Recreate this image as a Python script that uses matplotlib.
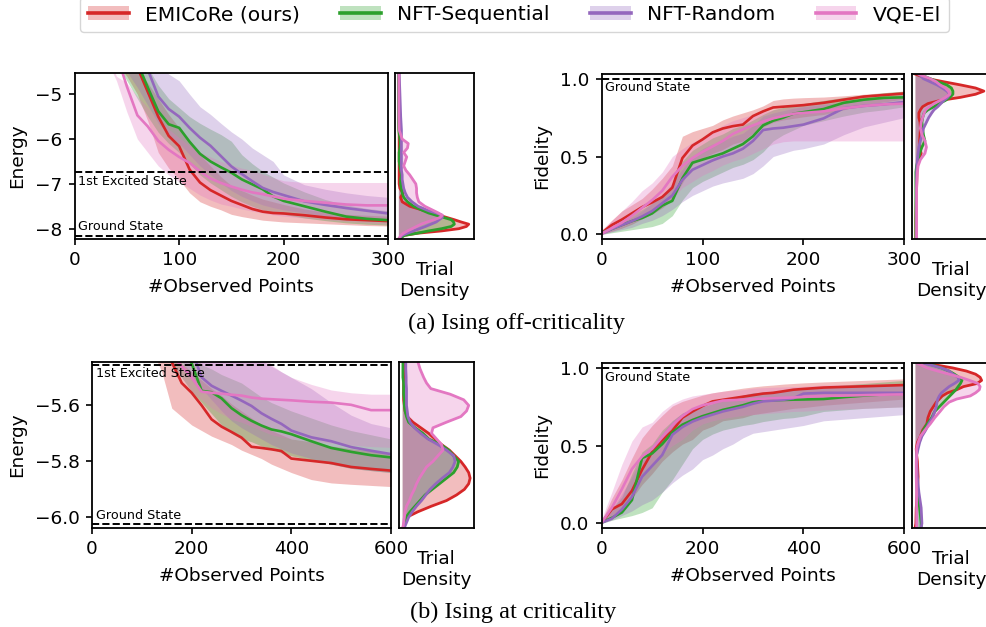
import matplotlib
matplotlib.use("Agg")
import matplotlib.pyplot as plt
from matplotlib.patches import Patch
from matplotlib.lines import Line2D
import matplotlib.transforms as mtransforms

methods = ["EMICoRe (ours)", "NFT-Sequential", "NFT-Random", "VQE-El"]
colors = ["#d62728", "#2ca02c", "#9467bd", "#e377c2"]

# ---------------- (a) Ising off-criticality ----------------
x_a = [0, 10, 20, 30, 40, 50, 60, 70, 80, 90, 100, 110, 120, 130, 140, 150,
       160, 170, 180, 190, 200, 220, 240, 260, 280, 300]

en_a_emicore = [-2.5, -2.85, -3.2, -3.5, -3.8, -4.1, -4.4, -4.95, -5.5, -5.93, -6.16, -6.68, -6.97,
                -7.14, -7.26, -7.38, -7.47, -7.56, -7.62, -7.65, -7.66, -7.7, -7.75, -7.79, -7.81, -7.83]
en_a_emicore_hi = [-2.0, -2.4, -2.8, -3.2, -3.6, -4.0, -4.45, -4.75, -5.1, -5.45, -5.75, -6.05, -6.35,
                   -6.6, -6.84, -7.04, -7.15, -7.25, -7.34, -7.4, -7.46, -7.56, -7.63, -7.68, -7.7, -7.72]
en_a_emicore_lo = [-3.0, -3.3, -3.6, -3.95, -4.3, -4.6, -5.0, -5.6, -6.3, -6.65, -6.9, -7.2, -7.4,
                   -7.5, -7.58, -7.68, -7.73, -7.77, -7.81, -7.83, -7.85, -7.87, -7.89, -7.91, -7.93, -7.94]
en_a_seq = [-2.5, -2.8, -3.1, -3.4, -3.7, -4.0, -4.3, -4.85, -5.38, -5.67, -5.75, -6.06, -6.33,
            -6.5, -6.63, -6.75, -6.9, -7.01, -7.12, -7.28, -7.38, -7.5, -7.62, -7.73, -7.78, -7.81]
en_a_seq_hi = [-2.0, -2.3, -2.6, -2.95, -3.3, -3.7, -4.0, -4.4, -4.8, -5.1, -5.3, -5.5, -5.65,
               -5.78, -5.9, -6.05, -6.35, -6.55, -6.72, -6.85, -6.98, -7.18, -7.35, -7.47, -7.55, -7.6]
en_a_seq_lo = [-3.0, -3.3, -3.6, -3.95, -4.3, -4.7, -5.1, -5.5, -5.85, -6.1, -6.3, -6.55, -6.8,
               -6.98, -7.13, -7.28, -7.4, -7.5, -7.58, -7.63, -7.68, -7.76, -7.82, -7.87, -7.9, -7.92]
en_a_rand = [-2.4, -2.7, -3.0, -3.3, -3.6, -3.9, -4.2, -4.45, -5.05, -5.33, -5.5, -5.75, -5.97,
             -6.15, -6.38, -6.61, -6.78, -6.94, -7.09, -7.18, -7.25, -7.39, -7.47, -7.54, -7.6, -7.66]
en_a_rand_hi = [-1.8, -2.1, -2.4, -2.7, -3.0, -3.4, -3.7, -4.0, -4.3, -4.55, -4.7, -5.0, -5.28,
                -5.45, -5.65, -5.84, -6.0, -6.2, -6.35, -6.5, -6.8, -7.02, -7.12, -7.2, -7.26, -7.3]
en_a_rand_lo = [-3.0, -3.25, -3.5, -3.85, -4.2, -4.5, -4.85, -5.25, -5.65, -5.9, -6.1, -6.35, -6.6,
                -6.8, -6.98, -7.15, -7.28, -7.38, -7.47, -7.53, -7.58, -7.65, -7.72, -7.77, -7.82, -7.85]
en_a_vqe = [-2.8, -3.1, -3.4, -3.75, -4.1, -4.83, -5.47, -5.72, -6.04, -6.24, -6.4, -6.53, -6.72,
            -6.88, -6.98, -7.06, -7.13, -7.19, -7.23, -7.28, -7.33, -7.38, -7.42, -7.46, -7.48, -7.48]
en_a_vqe_hi = [-2.0, -2.6, -3.3, -4.0, -4.6, -4.75, -5.05, -5.3, -5.55, -5.78, -5.97, -6.15, -6.3,
               -6.4, -6.5, -6.58, -6.65, -6.7, -6.78, -6.86, -6.93, -6.97, -6.97, -6.97, -6.97, -6.97]
en_a_vqe_lo = [-3.2, -3.5, -3.8, -4.2, -4.7, -5.4, -6.0, -6.3, -6.6, -6.8, -6.95, -7.1, -7.25,
               -7.36, -7.45, -7.5, -7.56, -7.61, -7.65, -7.69, -7.72, -7.76, -7.8, -7.84, -7.87, -7.9]

fid_a_emicore = [0.01, 0.06, 0.095, 0.135, 0.175, 0.205, 0.24, 0.3, 0.49, 0.57, 0.61, 0.655, 0.68,
                 0.695, 0.705, 0.76, 0.79, 0.815, 0.82, 0.825, 0.83, 0.845, 0.865, 0.885, 0.895, 0.905]
fid_a_emicore_hi = [0.02, 0.09, 0.15, 0.19, 0.23, 0.29, 0.36, 0.44, 0.63, 0.66, 0.68, 0.7, 0.735,
                    0.76, 0.78, 0.8, 0.825, 0.86, 0.87, 0.875, 0.878, 0.882, 0.89, 0.9, 0.91, 0.92]
fid_a_emicore_lo = [0.0, 0.02, 0.04, 0.065, 0.1, 0.13, 0.17, 0.22, 0.33, 0.45, 0.49, 0.52, 0.545,
                    0.58, 0.6, 0.65, 0.69, 0.72, 0.735, 0.745, 0.755, 0.77, 0.8, 0.835, 0.85, 0.87]
fid_a_seq = [0.01, 0.035, 0.06, 0.085, 0.105, 0.135, 0.185, 0.215, 0.36, 0.46, 0.48, 0.5, 0.52,
             0.55, 0.58, 0.63, 0.7, 0.73, 0.75, 0.775, 0.785, 0.805, 0.845, 0.865, 0.877, 0.88]
fid_a_seq_hi = [0.02, 0.055, 0.09, 0.125, 0.16, 0.2, 0.25, 0.32, 0.47, 0.54, 0.58, 0.62, 0.645,
                0.68, 0.7, 0.735, 0.77, 0.8, 0.815, 0.83, 0.84, 0.86, 0.88, 0.895, 0.91, 0.92]
fid_a_seq_lo = [0.0, 0.01, 0.02, 0.03, 0.04, 0.05, 0.07, 0.12, 0.22, 0.3, 0.34, 0.37, 0.4,
                0.43, 0.45, 0.48, 0.53, 0.6, 0.64, 0.67, 0.7, 0.73, 0.76, 0.785, 0.8, 0.82]
fid_a_rand = [0.005, 0.035, 0.06, 0.085, 0.115, 0.15, 0.2, 0.25, 0.35, 0.415, 0.445, 0.475, 0.5,
              0.52, 0.55, 0.6, 0.67, 0.68, 0.685, 0.695, 0.705, 0.745, 0.81, 0.825, 0.835, 0.85]
fid_a_rand_hi = [0.02, 0.05, 0.085, 0.11, 0.15, 0.2, 0.25, 0.33, 0.42, 0.5, 0.55, 0.58, 0.6,
                 0.63, 0.65, 0.7, 0.76, 0.78, 0.795, 0.81, 0.82, 0.835, 0.85, 0.865, 0.88, 0.9]
fid_a_rand_lo = [0.0, 0.015, 0.03, 0.045, 0.07, 0.09, 0.12, 0.16, 0.21, 0.25, 0.28, 0.31, 0.33,
                 0.345, 0.36, 0.39, 0.44, 0.5, 0.52, 0.54, 0.55, 0.58, 0.64, 0.69, 0.72, 0.75]
fid_a_vqe = [0.005, 0.04, 0.075, 0.12, 0.17, 0.22, 0.28, 0.37, 0.44, 0.49, 0.53, 0.565, 0.6,
             0.645, 0.675, 0.7, 0.725, 0.745, 0.76, 0.775, 0.78, 0.79, 0.81, 0.825, 0.835, 0.84]
fid_a_vqe_hi = [0.03, 0.09, 0.15, 0.21, 0.28, 0.33, 0.4, 0.5, 0.55, 0.59, 0.62, 0.66, 0.7,
                0.73, 0.75, 0.77, 0.785, 0.8, 0.81, 0.82, 0.83, 0.84, 0.85, 0.86, 0.87, 0.88]
fid_a_vqe_lo = [0.0, 0.02, 0.045, 0.075, 0.1, 0.135, 0.175, 0.23, 0.3, 0.34, 0.38, 0.41, 0.445,
                0.47, 0.49, 0.52, 0.55, 0.58, 0.595, 0.6, 0.6, 0.6, 0.6, 0.6, 0.6, 0.6]

# final-value densities, (a)
dens_en_a_levels = [-8.22, -8.15, -8.1, -8.05, -8.0, -7.95, -7.9, -7.85, -7.8, -7.75, -7.7, -7.65,
                    -7.6, -7.5, -7.4, -7.3, -7.2, -7.1, -7.0, -6.9, -6.8, -6.7, -6.6, -6.5, -6.4,
                    -6.3, -6.2, -6.1, -6.0, -5.8, -5.5, -5.0, -4.52]
dens_en_a_emicore = [0.01, 0.07, 0.26, 0.57, 0.8, 0.9, 0.93, 0.83, 0.74, 0.64, 0.54, 0.44, 0.35,
                     0.15, 0.05, 0.03, 0.06, 0.02, 0.01, 0.01, 0.01, 0.01, 0.01, 0.01, 0.01, 0.01,
                     0.01, 0.01, 0.01, 0.01, 0.005, 0.005, 0.005]
dens_en_a_seq = [0.02, 0.08, 0.25, 0.4, 0.57, 0.7, 0.74, 0.73, 0.7, 0.6, 0.5, 0.4, 0.33,
                 0.2, 0.12, 0.07, 0.05, 0.04, 0.03, 0.03, 0.04, 0.03, 0.02, 0.01, 0.01, 0.01,
                 0.02, 0.025, 0.02, 0.005, 0.0, 0.0, 0.0]
dens_en_a_rand = [0.01, 0.05, 0.12, 0.2, 0.28, 0.36, 0.43, 0.5, 0.54, 0.58, 0.58, 0.5, 0.4,
                  0.26, 0.18, 0.12, 0.09, 0.07, 0.06, 0.05, 0.05, 0.04, 0.04, 0.04, 0.04, 0.04,
                  0.04, 0.04, 0.04, 0.04, 0.03, 0.02, 0.01]
dens_en_a_vqe = [0.01, 0.03, 0.07, 0.12, 0.18, 0.24, 0.3, 0.38, 0.47, 0.55, 0.58, 0.53, 0.47,
                 0.35, 0.27, 0.25, 0.24, 0.24, 0.23, 0.19, 0.15, 0.1, 0.07, 0.09, 0.11, 0.07,
                 0.12, 0.13, 0.05, 0.01, 0.005, 0.005, 0.005]

dens_fid_levels = [-0.03, 0.0, 0.1, 0.2, 0.3, 0.4, 0.44, 0.48, 0.52, 0.56, 0.6, 0.64, 0.68, 0.72,
                   0.75, 0.78, 0.8, 0.82, 0.84, 0.86, 0.88, 0.9, 0.92, 0.94, 0.96, 0.98, 1.0, 1.03]
dens_fid_a_emicore = [0.01, 0.01, 0.01, 0.015, 0.02, 0.025, 0.03, 0.05, 0.08, 0.06, 0.06, 0.065, 0.07, 0.065,
                      0.05, 0.05, 0.07, 0.1, 0.17, 0.33, 0.6, 0.8, 0.91, 0.8, 0.6, 0.38, 0.17, 0.0]
dens_fid_a_seq = [0.01, 0.01, 0.01, 0.01, 0.01, 0.01, 0.02, 0.04, 0.06, 0.09, 0.13, 0.11, 0.1, 0.09,
                  0.1, 0.12, 0.17, 0.25, 0.32, 0.4, 0.46, 0.5, 0.5, 0.48, 0.42, 0.3, 0.2, 0.05]
dens_fid_a_rand = [0.02, 0.02, 0.02, 0.02, 0.02, 0.02, 0.025, 0.03, 0.04, 0.05, 0.07, 0.09, 0.11, 0.15,
                   0.18, 0.22, 0.25, 0.3, 0.34, 0.38, 0.43, 0.46, 0.42, 0.36, 0.29, 0.2, 0.11, 0.05]
dens_fid_a_vqe = [0.02, 0.02, 0.02, 0.02, 0.02, 0.03, 0.04, 0.07, 0.13, 0.15, 0.13, 0.09, 0.07, 0.08,
                  0.1, 0.12, 0.14, 0.19, 0.25, 0.33, 0.4, 0.46, 0.44, 0.4, 0.33, 0.28, 0.2, 0.04]

# ---------------- (b) Ising at criticality ----------------
x_b = [0, 20, 40, 60, 80, 100, 120, 140, 160, 180, 200, 220, 240, 260, 280, 300,
       320, 340, 360, 380, 400, 440, 480, 520, 560, 600]

en_b_emicore = [-4.6, -4.75, -4.9, -5.0, -5.1, -5.2, -5.3, -5.38, -5.445, -5.52, -5.555, -5.6, -5.65,
                -5.676, -5.695, -5.715, -5.748, -5.752, -5.757, -5.763, -5.79, -5.798, -5.806, -5.82, -5.827, -5.833]
en_b_emicore_hi = [-4.3, -4.45, -4.6, -4.75, -4.9, -5.05, -5.2, -5.35, -5.4, -5.45, -5.48, -5.51, -5.54,
                   -5.565, -5.595, -5.62, -5.645, -5.67, -5.69, -5.705, -5.72, -5.73, -5.745, -5.755, -5.762, -5.77]
en_b_emicore_lo = [-4.9, -5.0, -5.1, -5.2, -5.28, -5.34, -5.4, -5.48, -5.61, -5.64, -5.67, -5.69, -5.71,
                   -5.725, -5.74, -5.76, -5.775, -5.79, -5.81, -5.825, -5.84, -5.865, -5.877, -5.882, -5.886, -5.89]
en_b_seq = [-4.6, -4.7, -4.8, -4.9, -5.0, -5.1, -5.2, -5.28, -5.35, -5.4, -5.45, -5.548, -5.553,
            -5.575, -5.61, -5.635, -5.655, -5.672, -5.686, -5.693, -5.703, -5.728, -5.752, -5.766, -5.778, -5.786]
en_b_seq_hi = [-4.3, -4.4, -4.5, -4.6, -4.7, -4.8, -4.9, -5.0, -5.15, -5.3, -5.4, -5.455, -5.47,
               -5.49, -5.505, -5.52, -5.545, -5.57, -5.59, -5.605, -5.62, -5.645, -5.67, -5.69, -5.705, -5.72]
en_b_seq_lo = [-4.9, -5.0, -5.1, -5.15, -5.2, -5.25, -5.3, -5.38, -5.45, -5.5, -5.55, -5.59, -5.63,
               -5.67, -5.7, -5.72, -5.73, -5.745, -5.755, -5.77, -5.78, -5.795, -5.81, -5.825, -5.833, -5.84]
en_b_rand = [-4.5, -4.6, -4.7, -4.8, -4.9, -5.0, -5.1, -5.2, -5.28, -5.34, -5.4, -5.5, -5.53,
             -5.548, -5.565, -5.583, -5.602, -5.628, -5.648, -5.666, -5.69, -5.714, -5.728, -5.749, -5.762, -5.774]
en_b_rand_hi = [-4.0, -4.1, -4.2, -4.3, -4.4, -4.5, -4.6, -4.7, -4.8, -4.9, -5.0, -5.1, -5.2,
                -5.28, -5.34, -5.38, -5.41, -5.44, -5.46, -5.48, -5.5, -5.54, -5.59, -5.635, -5.665, -5.68]
en_b_rand_lo = [-4.9, -5.0, -5.05, -5.1, -5.15, -5.2, -5.25, -5.3, -5.38, -5.44, -5.5, -5.54, -5.58,
                -5.62, -5.655, -5.68, -5.7, -5.72, -5.74, -5.755, -5.77, -5.79, -5.81, -5.825, -5.833, -5.84]
en_b_vqe = [-4.7, -4.8, -4.9, -5.0, -5.1, -5.2, -5.3, -5.38, -5.42, -5.46, -5.5, -5.551, -5.555,
            -5.558, -5.562, -5.565, -5.572, -5.576, -5.578, -5.58, -5.582, -5.587, -5.59, -5.598, -5.617, -5.617]
en_b_vqe_hi = [-4.0, -4.1, -4.2, -4.3, -4.4, -4.5, -4.6, -4.7, -4.8, -4.9, -5.0, -5.08, -5.15,
               -5.22, -5.28, -5.32, -5.36, -5.4, -5.455, -5.48, -5.5, -5.525, -5.545, -5.555, -5.56, -5.56]
en_b_vqe_lo = [-4.9, -5.0, -5.1, -5.15, -5.2, -5.25, -5.3, -5.38, -5.45, -5.5, -5.55, -5.58, -5.61,
               -5.63, -5.65, -5.66, -5.675, -5.69, -5.705, -5.713, -5.72, -5.727, -5.735, -5.742, -5.747, -5.75]

fid_b_emicore = [0.005, 0.09, 0.125, 0.21, 0.345, 0.46, 0.535, 0.595, 0.68, 0.72, 0.755, 0.785, 0.795,
                 0.805, 0.815, 0.825, 0.835, 0.84, 0.85, 0.86, 0.865, 0.874, 0.878, 0.882, 0.886, 0.89]
fid_b_emicore_hi = [0.02, 0.16, 0.28, 0.42, 0.55, 0.63, 0.695, 0.755, 0.785, 0.805, 0.825, 0.84, 0.85,
                    0.86, 0.87, 0.878, 0.885, 0.89, 0.896, 0.9, 0.904, 0.91, 0.915, 0.92, 0.925, 0.93]
fid_b_emicore_lo = [0.0, 0.05, 0.1, 0.16, 0.25, 0.32, 0.4, 0.46, 0.51, 0.54, 0.6, 0.625, 0.66,
                    0.67, 0.68, 0.7, 0.71, 0.72, 0.73, 0.74, 0.745, 0.76, 0.77, 0.78, 0.79, 0.8]
fid_b_seq = [0.005, 0.035, 0.07, 0.15, 0.42, 0.45, 0.51, 0.585, 0.635, 0.665, 0.69, 0.71, 0.73,
             0.745, 0.76, 0.78, 0.79, 0.792, 0.794, 0.796, 0.797, 0.8, 0.812, 0.822, 0.83, 0.835]
fid_b_seq_hi = [0.02, 0.09, 0.17, 0.32, 0.46, 0.51, 0.6, 0.66, 0.71, 0.735, 0.75, 0.77, 0.8,
                0.81, 0.825, 0.84, 0.845, 0.85, 0.855, 0.86, 0.865, 0.88, 0.89, 0.9, 0.91, 0.92]
fid_b_seq_lo = [0.0, 0.02, 0.035, 0.05, 0.07, 0.1, 0.2, 0.28, 0.38, 0.48, 0.54, 0.575, 0.6,
                0.615, 0.63, 0.64, 0.655, 0.665, 0.675, 0.68, 0.69, 0.72, 0.73, 0.74, 0.745, 0.75]
fid_b_rand = [0.005, 0.03, 0.09, 0.17, 0.3, 0.37, 0.44, 0.57, 0.62, 0.655, 0.68, 0.7, 0.72,
              0.735, 0.75, 0.77, 0.785, 0.79, 0.795, 0.805, 0.835, 0.84, 0.84, 0.84, 0.84, 0.84]
fid_b_rand_hi = [0.02, 0.09, 0.19, 0.3, 0.43, 0.5, 0.58, 0.66, 0.71, 0.74, 0.765, 0.78, 0.8,
                 0.81, 0.825, 0.84, 0.845, 0.85, 0.855, 0.86, 0.865, 0.88, 0.885, 0.89, 0.895, 0.9]
fid_b_rand_lo = [0.0, 0.02, 0.05, 0.08, 0.12, 0.15, 0.2, 0.26, 0.31, 0.35, 0.41, 0.44, 0.48,
                 0.51, 0.55, 0.58, 0.59, 0.6, 0.61, 0.62, 0.63, 0.66, 0.67, 0.68, 0.69, 0.7]
fid_b_vqe = [0.005, 0.1, 0.22, 0.35, 0.43, 0.48, 0.555, 0.63, 0.69, 0.735, 0.76, 0.775, 0.79,
             0.793, 0.796, 0.8, 0.802, 0.805, 0.808, 0.81, 0.814, 0.82, 0.822, 0.825, 0.828, 0.83]
fid_b_vqe_hi = [0.03, 0.2, 0.38, 0.53, 0.62, 0.65, 0.72, 0.77, 0.8, 0.82, 0.83, 0.84, 0.85,
                0.855, 0.86, 0.87, 0.873, 0.876, 0.878, 0.88, 0.882, 0.89, 0.893, 0.895, 0.898, 0.9]
fid_b_vqe_lo = [0.0, 0.04, 0.11, 0.22, 0.33, 0.38, 0.45, 0.5, 0.54, 0.6, 0.64, 0.66, 0.675,
                0.685, 0.695, 0.7, 0.705, 0.71, 0.715, 0.72, 0.722, 0.73, 0.735, 0.74, 0.745, 0.75]

dens_en_b_levels = [-6.037, -6.0, -5.98, -5.96, -5.94, -5.92, -5.9, -5.88, -5.86, -5.84, -5.82, -5.8,
                    -5.78, -5.76, -5.74, -5.72, -5.7, -5.68, -5.66, -5.64, -5.62, -5.6, -5.58, -5.56,
                    -5.54, -5.52, -5.5, -5.47, -5.445]
dens_en_b_emicore = [0.01, 0.06, 0.22, 0.41, 0.62, 0.76, 0.87, 0.93, 0.95, 0.93, 0.88, 0.82, 0.74, 0.66,
                     0.55, 0.46, 0.37, 0.26, 0.15, 0.07, 0.04, 0.03, 0.02, 0.02, 0.02, 0.02, 0.02, 0.02, 0.02]
dens_en_b_seq = [0.02, 0.05, 0.11, 0.18, 0.25, 0.32, 0.42, 0.52, 0.62, 0.72, 0.77, 0.79, 0.72, 0.65,
                 0.54, 0.37, 0.29, 0.18, 0.09, 0.06, 0.04, 0.03, 0.03, 0.02, 0.02, 0.02, 0.01, 0.01, 0.01]
dens_en_b_rand = [0.03, 0.09, 0.14, 0.2, 0.27, 0.33, 0.39, 0.47, 0.56, 0.66, 0.71, 0.74, 0.72, 0.62,
                  0.5, 0.36, 0.26, 0.17, 0.11, 0.08, 0.07, 0.06, 0.06, 0.06, 0.06, 0.055, 0.055, 0.05, 0.05]
dens_en_b_vqe = [0.01, 0.03, 0.04, 0.06, 0.1, 0.13, 0.17, 0.2, 0.24, 0.29, 0.34, 0.43, 0.5, 0.57,
                 0.55, 0.48, 0.41, 0.43, 0.62, 0.82, 0.9, 0.93, 0.86, 0.67, 0.4, 0.34, 0.3, 0.25, 0.22]

dens_fid_b_emicore = [0.0, 0.01, 0.015, 0.03, 0.04, 0.03, 0.02, 0.015, 0.03, 0.07, 0.1, 0.155, 0.17, 0.2,
                      0.24, 0.28, 0.32, 0.36, 0.43, 0.55, 0.64, 0.82, 0.88, 0.86, 0.8, 0.68, 0.5, 0.15]
dens_fid_b_seq = [0.08, 0.08, 0.06, 0.03, 0.02, 0.02, 0.02, 0.03, 0.05, 0.08, 0.11, 0.16, 0.22, 0.26,
                  0.32, 0.38, 0.42, 0.46, 0.5, 0.54, 0.57, 0.6, 0.62, 0.58, 0.52, 0.45, 0.35, 0.16]
dens_fid_b_rand = [0.08, 0.09, 0.08, 0.05, 0.03, 0.02, 0.02, 0.04, 0.06, 0.09, 0.14, 0.18, 0.23, 0.26,
                   0.28, 0.29, 0.3, 0.32, 0.35, 0.4, 0.45, 0.52, 0.58, 0.57, 0.5, 0.45, 0.35, 0.12]
dens_fid_b_vqe = [0.02, 0.02, 0.02, 0.02, 0.015, 0.015, 0.02, 0.02, 0.04, 0.07, 0.13, 0.2, 0.26, 0.33,
                  0.38, 0.45, 0.55, 0.73, 0.8, 0.85, 0.86, 0.83, 0.72, 0.6, 0.45, 0.3, 0.16, 0.03]

plt.rcParams["font.family"] = ["DejaVu Sans"]
plt.rcParams["axes.linewidth"] = 1.3
LABEL_FS = 13.3
NOTE_FS = 9.2

W, H = 987, 627
fig = plt.figure(figsize=(W / 100, H / 100), dpi=100)


def box(left, top, right, bottom):
    return [left / W, 1 - bottom / H, (right - left) / W, (bottom - top) / H]


def draw_main(ax, x, curves, xmax, ylim):
    for (mean, lo, hi), c in zip(curves, colors):
        ax.fill_between(x, lo, hi, color=c, alpha=0.3, linewidth=0)
    for (mean, lo, hi), c in zip(curves, colors):
        ax.plot(x, mean, color=c, lw=1.9)
    ax.set_xlim(0, xmax)
    ax.set_ylim(*ylim)
    ax.set_xlabel("#Observed Points", fontsize=LABEL_FS, labelpad=6)
    ax.tick_params(labelsize=LABEL_FS, width=1.2, length=4, pad=5)


def draw_density(ax, levels, dens, ylim):
    for d, c in zip(dens, colors):
        ax.fill_betweenx(levels, 0, d, color=c, alpha=0.3, linewidth=0)
        ax.plot(d, levels, color=c, lw=2)
    ax.set_xlim(-0.045, 1.0)
    ax.set_ylim(*ylim)
    ax.set_xticks([])
    ax.set_yticks([])
    # two-line label "Trial / Density" under the density strip
    ax.text(0.5, 0, "Trial", transform=mtransforms.offset_copy(ax.transAxes, fig=fig, y=-31, units="dots"),
            ha="center", va="center", fontsize=LABEL_FS)
    ax.text(0.5, 0, "Density", transform=mtransforms.offset_copy(ax.transAxes, fig=fig, y=-52, units="dots"),
            ha="center", va="center", fontsize=LABEL_FS)


def hline_note(ax, y, text, below):
    ax.axhline(y, color="black", ls="--", lw=1.4)
    tr = mtransforms.blended_transform_factory(ax.transAxes, ax.transData)
    off = mtransforms.offset_copy(tr, fig=fig, y=-2 if below else 2, units="points")
    ax.text(0.012, y, text, transform=off, fontsize=NOTE_FS,
            va="top" if below else "bottom", ha="left")


# (a) energy
ylim_ea = (-8.23, -4.52)
ax = fig.add_axes(box(74.7, 72.7, 388, 239))
draw_main(ax, x_a, [(en_a_emicore, en_a_emicore_lo, en_a_emicore_hi),
                    (en_a_seq, en_a_seq_lo, en_a_seq_hi),
                    (en_a_rand, en_a_rand_lo, en_a_rand_hi),
                    (en_a_vqe, en_a_vqe_lo, en_a_vqe_hi)], 300, ylim_ea)
ax.set_xticks([0, 100, 200, 300])
ax.set_yticks([-8, -7, -6, -5])
ax.set_ylabel("Energy", fontsize=LABEL_FS, labelpad=6)
hline_note(ax, -6.73, "1st Excited State", True)
hline_note(ax, -8.16, "Ground State", False)
axd = fig.add_axes(box(395, 72.7, 474, 239))
draw_density(axd, dens_en_a_levels, [dens_en_a_emicore, dens_en_a_seq, dens_en_a_rand, dens_en_a_vqe], ylim_ea)

# (a) fidelity
ylim_f = (-0.028, 1.03)
ax = fig.add_axes(box(601.7, 74, 904.3, 238.7))
draw_main(ax, x_a, [(fid_a_emicore, fid_a_emicore_lo, fid_a_emicore_hi),
                    (fid_a_seq, fid_a_seq_lo, fid_a_seq_hi),
                    (fid_a_rand, fid_a_rand_lo, fid_a_rand_hi),
                    (fid_a_vqe, fid_a_vqe_lo, fid_a_vqe_hi)], 300, ylim_f)
ax.set_xticks([0, 100, 200, 300])
ax.set_yticks([0.0, 0.5, 1.0])
ax.set_ylabel("Fidelity", fontsize=LABEL_FS, labelpad=6)
hline_note(ax, 1.0, "Ground State", True)
axd = fig.add_axes(box(911.7, 74, 990.7, 238.7))
draw_density(axd, dens_fid_levels, [dens_fid_a_emicore, dens_fid_a_seq, dens_fid_a_rand, dens_fid_a_vqe], ylim_f)

# (b) energy
ylim_eb = (-6.037, -5.445)
ax = fig.add_axes(box(92, 362, 391, 527.7))
draw_main(ax, x_b, [(en_b_emicore, en_b_emicore_lo, en_b_emicore_hi),
                    (en_b_seq, en_b_seq_lo, en_b_seq_hi),
                    (en_b_rand, en_b_rand_lo, en_b_rand_hi),
                    (en_b_vqe, en_b_vqe_lo, en_b_vqe_hi)], 600, ylim_eb)
ax.set_xticks([0, 200, 400, 600])
ax.set_yticks([-6.0, -5.8, -5.6])
ax.set_ylabel("Energy", fontsize=LABEL_FS, labelpad=6)
hline_note(ax, -5.454, "1st Excited State", True)
hline_note(ax, -6.025, "Ground State", False)
axd = fig.add_axes(box(399, 362, 473.7, 527.7))
draw_density(axd, dens_en_b_levels, [dens_en_b_emicore, dens_en_b_seq, dens_en_b_rand, dens_en_b_vqe], ylim_eb)

# (b) fidelity
ax = fig.add_axes(box(601.7, 363.3, 904.3, 527.7))
draw_main(ax, x_b, [(fid_b_emicore, fid_b_emicore_lo, fid_b_emicore_hi),
                    (fid_b_seq, fid_b_seq_lo, fid_b_seq_hi),
                    (fid_b_rand, fid_b_rand_lo, fid_b_rand_hi),
                    (fid_b_vqe, fid_b_vqe_lo, fid_b_vqe_hi)], 600, ylim_f)
ax.set_xticks([0, 200, 400, 600])
ax.set_yticks([0.0, 0.5, 1.0])
ax.set_ylabel("Fidelity", fontsize=LABEL_FS, labelpad=6)
hline_note(ax, 1.0, "Ground State", True)
axd = fig.add_axes(box(911.7, 363.3, 990.7, 527.7))
draw_density(axd, dens_fid_levels, [dens_fid_b_emicore, dens_fid_b_seq, dens_fid_b_rand, dens_fid_b_vqe], ylim_f)

# captions
fig.text(517 / W, 1 - 323 / H, "(a) Ising off-criticality", family="Liberation Serif",
         fontsize=17.5, ha="center", va="center")
fig.text(513.5 / W, 1 - 612 / H, "(b) Ising at criticality", family="Liberation Serif",
         fontsize=17.5, ha="center", va="center")

# legend
handles = [(Patch(facecolor=c, alpha=0.3, linewidth=0), Line2D([], [], color=c, lw=2.6)) for c in colors]
fig.legend(handles, methods, loc="upper center", bbox_to_anchor=(514.5 / W, 1.021), ncol=4,
           fontsize=14.6, frameon=True)

fig.savefig("out.png", dpi=100)
